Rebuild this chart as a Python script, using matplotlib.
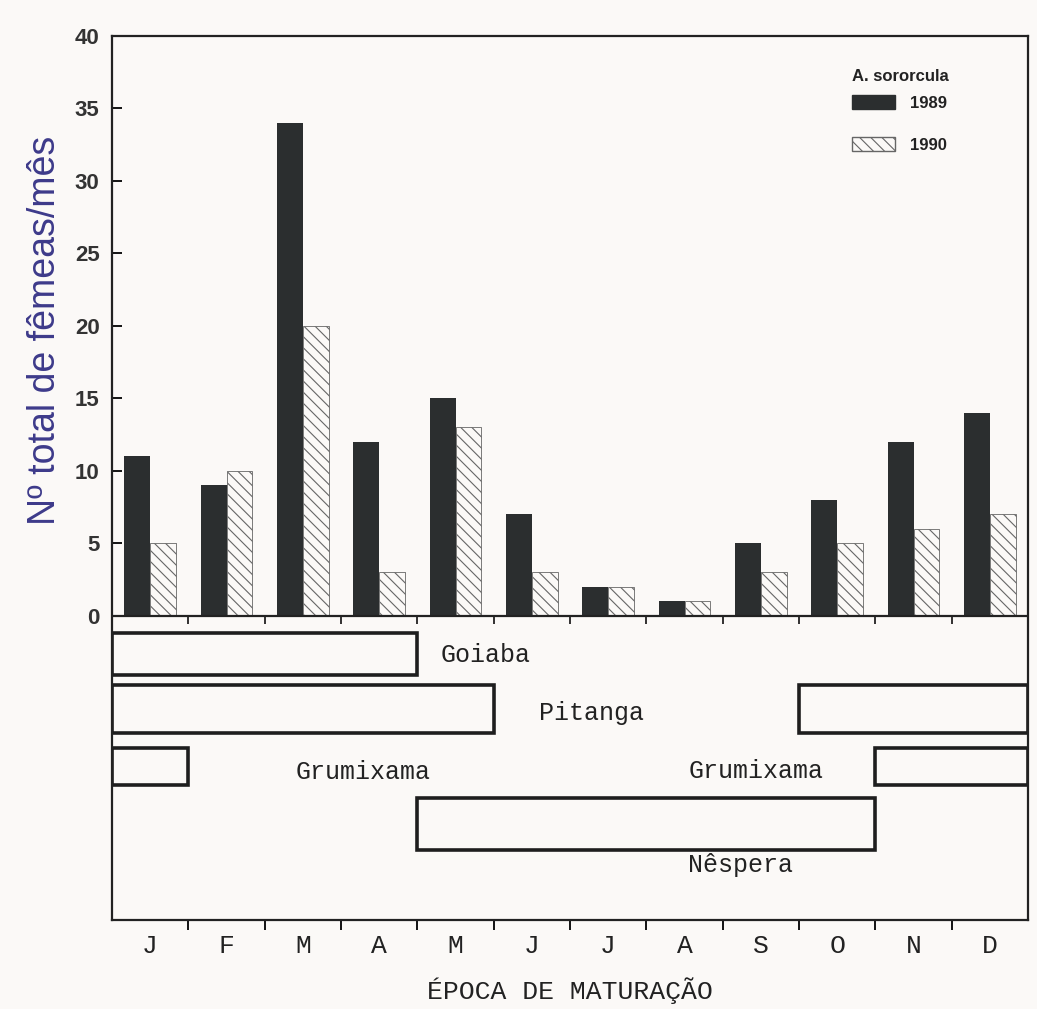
import numpy as np
import matplotlib
matplotlib.use('Agg')
import matplotlib.pyplot as plt
from matplotlib.patches import Patch

# monthly counts of females (A. sororcula)
months = ['J', 'F', 'M', 'A', 'M', 'J', 'J', 'A', 'S', 'O', 'N', 'D']
females_1989 = [11, 9, 34, 12, 15, 7, 2, 1, 5, 8, 12, 14]
females_1990 = [5, 10, 20, 3, 13, 3, 2, 1, 3, 5, 6, 7]

# fruit maturation periods (months counted from start of january)
fruit_names = ['Goiaba', 'Pitanga', 'Pitanga', 'Grumixama', 'Grumixama', 'Nêspera']
fruit_start = [0, 0, 9, 0, 10, 4]
fruit_end = [4, 5, 12, 1, 12, 10]

# layout of the maturation rows under the bars (data units below zero)
row_center = {'Goiaba': -2.65, 'Pitanga': -6.45, 'Grumixama': -10.4, 'Nêspera': -14.4}
row_height = {'Goiaba': 2.9, 'Pitanga': 3.3, 'Grumixama': 2.6, 'Nêspera': 3.6}
label_pos = [('Goiaba', 4.3, -2.7), ('Pitanga', 5.6, -6.7),
             ('Grumixama', 2.4, -10.8), ('Grumixama', 7.55, -10.7),
             ('Nêspera', 7.55, -17.2)]

paper = '#fbf9f7'
dark = '#2b2e2f'
mono = 'Liberation Mono'
sans = 'Liberation Sans'
plt.rcParams['hatch.linewidth'] = 0.8

fig = plt.figure(figsize=(10.37, 10.09), dpi=100, facecolor=paper)
ax = fig.add_axes([112 / 1037, 1 - 920 / 1009, 916 / 1037, 884 / 1009])
ax.set_facecolor(paper)

x = np.arange(len(months)) + 0.5
w = 0.34
ax.bar(x - w / 2, females_1989, width=w, color=dark, linewidth=0)
ax.bar(x + w / 2, females_1990, width=w, facecolor=paper, edgecolor='#666666',
       hatch='\\\\\\', linewidth=0.6)

# zero line with month separators
ax.axhline(0, color='#222222', lw=1.6)
ax.vlines(np.arange(1, len(months)), -0.55, 0, color='#222222', lw=1.3)

# maturation boxes
for name, s, e in zip(fruit_names, fruit_start, fruit_end):
    ax.barh(row_center[name], e - s, left=s, height=row_height[name],
            fill=False, edgecolor='#1e1e1e', linewidth=2.6)
for txt, tx, ty in label_pos:
    ax.text(tx, ty, txt, fontfamily=mono, fontsize=18, va='center', ha='left',
            color='#222222')

ax.set_xlim(0, 12)
ax.set_ylim(-21, 40)

ax.set_yticks(range(0, 41, 5))
ax.set_yticklabels([str(v) for v in range(0, 41, 5)], fontfamily=sans,
                   fontweight='bold', fontsize=16, color='#333333')
ax.tick_params(axis='y', direction='in', length=7, width=1.3, pad=9)

ax.set_xticks(np.arange(1, len(months)))
ax.set_xticklabels([])
ax.set_xticks(x, minor=True)
ax.set_xticklabels(months, minor=True, fontfamily=mono, fontsize=19, color='#222222')
ax.tick_params(axis='x', which='major', direction='out', length=7, width=1.3)
ax.tick_params(axis='x', which='minor', length=0, pad=10)

for sp in ax.spines.values():
    sp.set_linewidth(1.6)
    sp.set_color('#222222')

ax.set_xlabel('ÉPOCA DE MATURAÇÃO', fontfamily=mono, fontsize=19,
              color='#222222', labelpad=14)

fig.text(45 / 1037, 1 - 330 / 1009, 'Nº total de fêmeas/mês', rotation=90,
         ha='center', va='center', fontfamily=sans, fontsize=27, color='#3d3a8a')

# legend: title as separate text so its gap to the entries can be set
ax.text(0.808, 0.954, 'A. sororcula', transform=ax.transAxes, ha='left', va='center',
        fontfamily=sans, fontweight='bold', fontsize=12, color='#222222')
handles = [Patch(facecolor=dark, edgecolor=dark, label='1989'),
           Patch(facecolor=paper, edgecolor='#666666', hatch='\\\\\\', label='1990')]
leg = ax.legend(handles=handles, loc='upper left',
                bbox_to_anchor=(0.795, 0.946), frameon=False,
                prop={'family': sans, 'weight': 'bold', 'size': 12},
                handlelength=2.6, handleheight=0.85, handletextpad=0.9,
                labelspacing=1.6, borderpad=0.2)
for t in leg.get_texts():
    t.set_color('#222222')

fig.savefig('out.png', dpi=100, facecolor=paper)
